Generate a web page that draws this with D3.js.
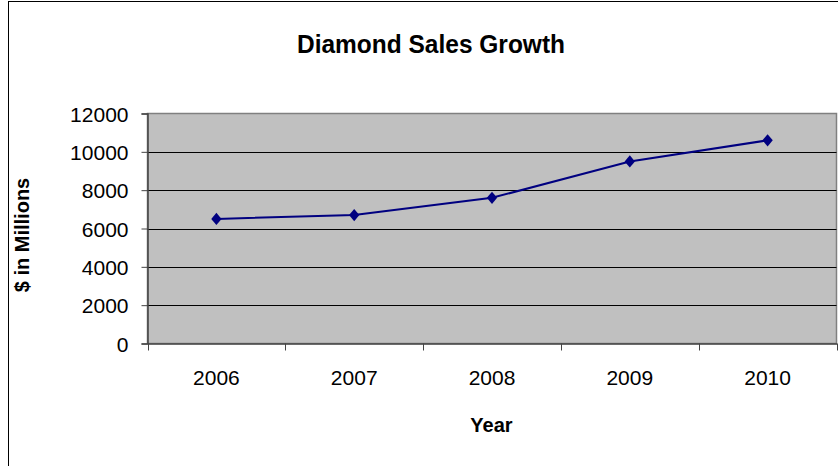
<!DOCTYPE html>
<html lang="en">
<head>
    <meta charset="UTF-8">
    <title>Diamond Sales Growth</title>
    <script type="text/javascript" src="https://d3js.org/d3.v7.min.js"></script>
    <style>
        body { margin: 0; background: #fff; }
        text { font-family: "Liberation Sans", Arial, sans-serif; fill: #000; }
    </style>
</head>
<body>
<svg class="chart"></svg>

<script type="text/javascript">

    const width = 838;
    const height = 466;

    const years = ["2006", "2007", "2008", "2009", "2010"];
    const sales = [6500, 6700, 7600, 9500, 10600];
    const yTicks = [0, 2000, 4000, 6000, 8000, 10000, 12000];

    const plot = {left: 147.5, right: 836.5, top: 113.5, bottom: 343.5};

    let svg = d3.select(".chart")
        .attr("width", width)
        .attr("height", height);

    // outer chart frame
    svg.append("rect")
        .attr("x", 8.5).attr("y", 1.5)
        .attr("width", 840).attr("height", 480)
        .attr("fill", "#fff")
        .attr("stroke", "#000")
        .attr("stroke-width", 1);

    let x = d3.scaleBand()
        .domain(years)
        .range([plot.left, plot.right]);

    let y = d3.scaleLinear()
        .domain([0, 12000])
        .range([plot.bottom, plot.top]);

    // plot area
    svg.append("rect")
        .attr("x", plot.left).attr("y", plot.top)
        .attr("width", plot.right - plot.left)
        .attr("height", plot.bottom - plot.top)
        .attr("fill", "#c0c0c0")
        .attr("stroke", "#808080")
        .attr("stroke-width", 1.5);

    // gridlines
    svg.append("g").selectAll("line").data(yTicks.slice(1, -1)).enter().append("line")
        .attr("x1", plot.left).attr("x2", plot.right)
        .attr("y1", d => Math.round(y(d)) + 0.5)
        .attr("y2", d => Math.round(y(d)) + 0.5)
        .attr("stroke", "#000")
        .attr("stroke-width", 1);

    // y axis
    let yAxis = svg.append("g")
        .attr("transform", "translate(" + plot.left + ",0)")
        .call(d3.axisLeft(y).tickValues(yTicks).tickSize(6).tickPadding(13).tickFormat(d3.format("d")));
    yAxis.select(".domain").attr("stroke", "#444").attr("stroke-width", 1.5);
    yAxis.selectAll(".tick line").attr("stroke", "#444");
    yAxis.selectAll("text")
        .style("font-family", "'Liberation Sans', Arial, sans-serif")
        .style("font-size", "21px")
        .attr("dy", "0.36em")
        .attr("fill", "#000");

    // x axis
    let xAxis = svg.append("g")
        .attr("transform", "translate(0," + plot.bottom + ")")
        .call(d3.axisBottom(x).tickSize(0).tickPadding(27));
    xAxis.select(".domain").attr("stroke", "#444").attr("stroke-width", 1.5);
    xAxis.selectAll("text")
        .style("font-family", "'Liberation Sans', Arial, sans-serif")
        .style("font-size", "21px")
        .attr("fill", "#000");

    // tick marks between categories
    let bounds = years.map(d => x(d)).concat([x(years[years.length - 1]) + x.bandwidth()]);
    svg.append("g").selectAll("line").data(bounds).enter().append("line")
        .attr("x1", d => Math.round(d) + 0.5).attr("x2", d => Math.round(d) + 0.5)
        .attr("y1", plot.bottom).attr("y2", plot.bottom + 7)
        .attr("stroke", "#444")
        .attr("stroke-width", 1);

    // line
    let line = d3.line()
        .x((d, i) => x(years[i]) + x.bandwidth() / 2)
        .y(d => y(d));

    svg.append("path")
        .datum(sales)
        .attr("d", line)
        .attr("fill", "none")
        .attr("stroke", "#000080")
        .attr("stroke-width", 2);

    svg.append("g").selectAll("path").data(sales).enter().append("path")
        .attr("d", d3.symbol().type(d3.symbolDiamond2).size(68))
        .attr("transform", (d, i) => "translate(" + (x(years[i]) + x.bandwidth() / 2) + "," + y(d) + ") scale(1,1.2)")
        .attr("fill", "#000080");

    // titles
    svg.append("text")
        .attr("x", 431).attr("y", 53)
        .attr("text-anchor", "middle")
        .attr("textLength", 268)
        .attr("lengthAdjust", "spacingAndGlyphs")
        .style("font-size", "26px")
        .style("font-weight", "bold")
        .text("Diamond Sales Growth");

    svg.append("text")
        .attr("x", 491.5).attr("y", 432)
        .attr("text-anchor", "middle")
        .style("font-size", "20px")
        .style("font-weight", "bold")
        .text("Year");

    svg.append("text")
        .attr("transform", "translate(29,235) rotate(-90)")
        .attr("text-anchor", "middle")
        .style("font-size", "20px")
        .style("font-weight", "bold")
        .text("$ in Millions");

</script>

</body>
</html>
